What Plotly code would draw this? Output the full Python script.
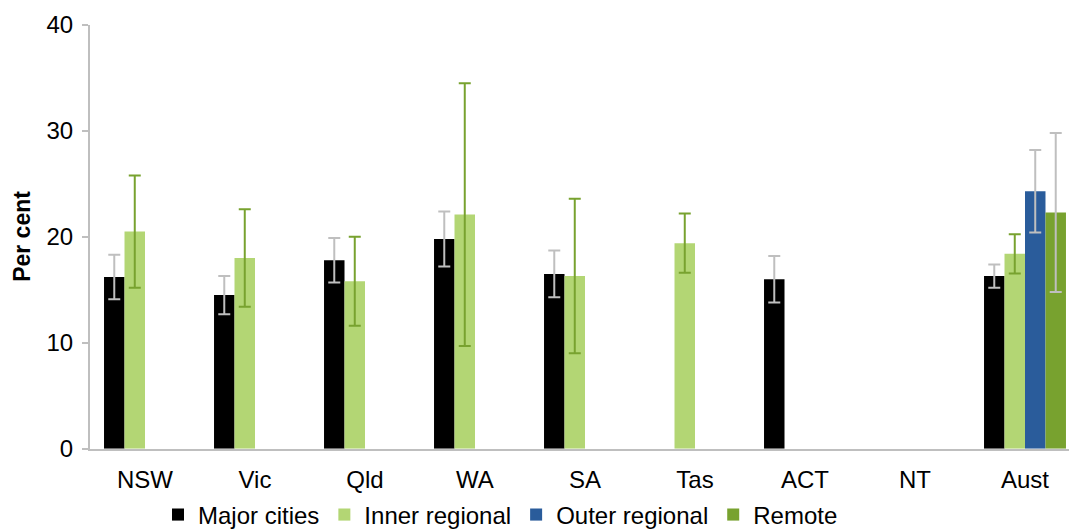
import plotly.graph_objects as go

# Categories and series values (per cent), with error margins
regions = ["NSW", "Vic", "Qld", "WA", "SA", "Tas", "ACT", "NT", "Aust"]

major_cities = [16.2, 14.5, 17.8, 19.8, 16.5, None, 16.0, None, 16.3]
major_cities_err = [2.1, 1.8, 2.1, 2.6, 2.2, None, 2.2, None, 1.1]

inner_regional = [20.5, 18.0, 15.8, 22.1, 16.3, 19.4, None, None, 18.4]
inner_regional_err = [5.3, 4.6, 4.2, 12.4, 7.3, 2.8, None, None, 1.85]

outer_regional = [None, None, None, None, None, None, None, None, 24.3]
outer_regional_err = [None, None, None, None, None, None, None, None, 3.9]

remote = [None, None, None, None, None, None, None, None, 22.3]
remote_err = [None, None, None, None, None, None, None, None, 7.5]

y_ticks = [0, 10, 20, 30, 40]

FONT = "Liberation Sans, Arial, sans-serif"
GREY = "#bfbfbf"
DARK_GREEN = "#78a22f"

series = [
    ("Major cities", major_cities, major_cities_err, "#000000", GREY),
    ("Inner regional", inner_regional, inner_regional_err, "#b3d674", DARK_GREEN),
    ("Outer regional", outer_regional, outer_regional_err, "#2a5c9b", GREY),
    ("Remote", remote, remote_err, "#78a22f", GREY),
]

fig = go.Figure()
for name, vals, errs, color, err_color in series:
    fig.add_trace(go.Bar(
        name=name,
        x=regions,
        y=vals,
        marker=dict(color=color, line=dict(width=0)),
        error_y=dict(type="data", array=errs, visible=True,
                     color=err_color, thickness=2, width=6),
    ))

fig.update_layout(
    width=1069, height=530,
    barmode="group",
    bargap=0.255,
    bargroupgap=0,
    plot_bgcolor="white",
    paper_bgcolor="white",
    margin=dict(l=90, r=0, t=25, b=77),
    font=dict(family=FONT, size=24, color="#000000"),
    showlegend=True,
    legend=dict(
        orientation="h",
        xref="paper", yref="container",
        x=(158 - 90) / 979, xanchor="left",
        y=(530 - 515) / 530, yanchor="middle",
        font=dict(family=FONT, size=24, color="#000000"),
        itemsizing="constant",
        bgcolor="rgba(0,0,0,0)",
    ),
    xaxis=dict(
        type="category",
        range=[-0.5, 8.4],
        showline=True, linecolor=GREY, linewidth=2,
        ticks="", showgrid=False, zeroline=False,
        tickfont=dict(family=FONT, size=24),
        ticklabelstandoff=8,
    ),
    yaxis=dict(
        range=[0, 40],
        tickvals=y_ticks,
        ticktext=[str(v) for v in y_ticks],
        showline=True, linecolor=GREY, linewidth=2,
        ticks="outside", ticklen=6, tickcolor=GREY, tickwidth=2,
        showgrid=False, zeroline=False,
        tickfont=dict(family=FONT, size=24),
        ticklabelstandoff=4,
    ),
    annotations=[dict(
        text="<b>Per cent</b>",
        xref="paper", yref="paper",
        x=(22 - 90) / 979, y=0.5,
        xanchor="center", yanchor="middle",
        textangle=-90, showarrow=False,
        font=dict(family=FONT, size=23, color="#000000"),
    )],
)

fig.write_html("out.html")
